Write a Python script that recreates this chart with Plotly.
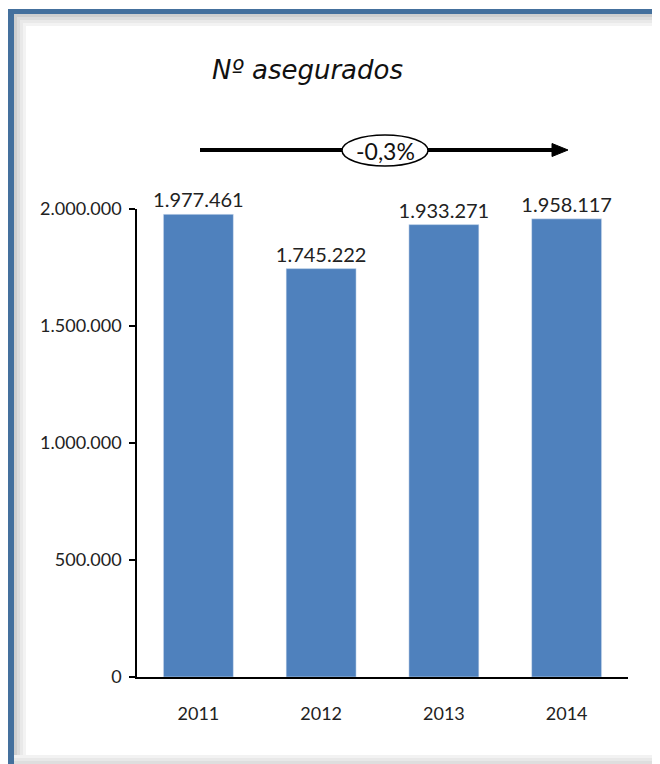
import plotly.graph_objects as go

# data
years = ['2011', '2012', '2013', '2014']
asegurados = [1977461, 1745222, 1933271, 1958117]
y_ticks = [0, 500000, 1000000, 1500000, 2000000]
variacion = '-0,3%'
titulo = 'Nº asegurados'

# page offset of the plot div (body margin)
OFF = 8
W, H = 660 - OFF, 764 - OFF
L, R, T, B = 137, 628, 209, 677  # plot area, page pixels


def px(x):
    return (x - L) / (R - L)


def py(y):
    return (B - y) / (B - T)


def rect(x0, x1, y0, y1, color, layer='above'):
    return dict(type='rect', xref='paper', yref='paper', layer=layer,
                x0=px(x0), x1=px(x1), y0=py(y1), y1=py(y0),
                fillcolor=color, line_width=0)


fig = go.Figure(go.Bar(
    x=years,
    y=asegurados,
    marker_color='#4f81bd',
    width=0.57,
    texttemplate='%{y:,}',
    textposition='outside',
    constraintext='none',
    textfont=dict(size=20, color='#222222'),
    cliponaxis=False,
))

shapes = []
# soft shadows of the frame
for i, c in enumerate(['#cfcfcf', '#dddddd', '#e9e9e9', '#f3f3f3']):
    shapes.append(rect(14 + i * 3, 17 + i * 3, 14 + i * 3, 764, c, 'below'))
    shapes.append(rect(14 + i * 3, 658, 14 + i * 3, 17 + i * 3, c, 'below'))
for i, c in enumerate(['#f2f2f2', '#e8e8e8', '#dedede']):
    shapes.append(rect(14, 658, 755 + i * 3, 758 + i * 3, c, 'below'))
# blue frame
shapes.append(rect(8, 659, 9, 14, '#44709d'))
shapes.append(rect(8, 14, 9, 764, '#44709d'))
shapes.append(rect(658, 660, 9, 764, '#7f93ad'))
# trend arrow
shapes.append(dict(type='line', xref='paper', yref='paper',
                   x0=px(200), x1=px(555), y0=py(150), y1=py(150),
                   line=dict(color='black', width=4)))
shapes.append(dict(type='path', xref='paper', yref='paper',
                   path='M {} {} L {} {} L {} {} Z'.format(
                       px(552), py(143.5), px(568), py(150), px(552), py(156.5)),
                   fillcolor='black', line=dict(color='black', width=1)))
# ellipse with the variation
shapes.append(dict(type='circle', xref='paper', yref='paper',
                   x0=px(342), x1=px(428), y0=py(166), y1=py(135),
                   fillcolor='white', line=dict(color='black', width=1.5)))

annotations = [
    dict(text=titulo, xref='paper', yref='paper', x=px(307), y=py(70),
         xanchor='center', yanchor='middle', showarrow=False,
         font=dict(family='DejaVu Sans', size=26, color='#111111', style='italic')),
    dict(text=variacion, xref='paper', yref='paper', x=px(385), y=py(151),
         xanchor='center', yanchor='middle', showarrow=False,
         font=dict(size=23, color='#111111')),
]

fig.update_layout(
    width=W, height=H,
    margin=dict(l=L - OFF, r=W - (R - OFF), t=T - OFF, b=H - (B - OFF), pad=0),
    paper_bgcolor='white',
    plot_bgcolor='white',
    separators=',.',
    font=dict(family='Lato, Open Sans, sans-serif', size=18, color='#222222'),
    showlegend=False,
    shapes=shapes,
    annotations=annotations,
    xaxis=dict(showline=True, linecolor='black', linewidth=1.5, ticks='',
               ticklabelstandoff=20, tickfont=dict(size=18), showgrid=False),
    yaxis=dict(range=[0, 2000000], tickvals=y_ticks, tickformat=',d',
               showline=True, linecolor='black', linewidth=1.5,
               ticks='outside', ticklen=6, tickcolor='black', tickwidth=1.5,
               ticklabelstandoff=4,
               showgrid=False, zeroline=False, tickfont=dict(size=18)),
)

fig.write_html("out.html")
